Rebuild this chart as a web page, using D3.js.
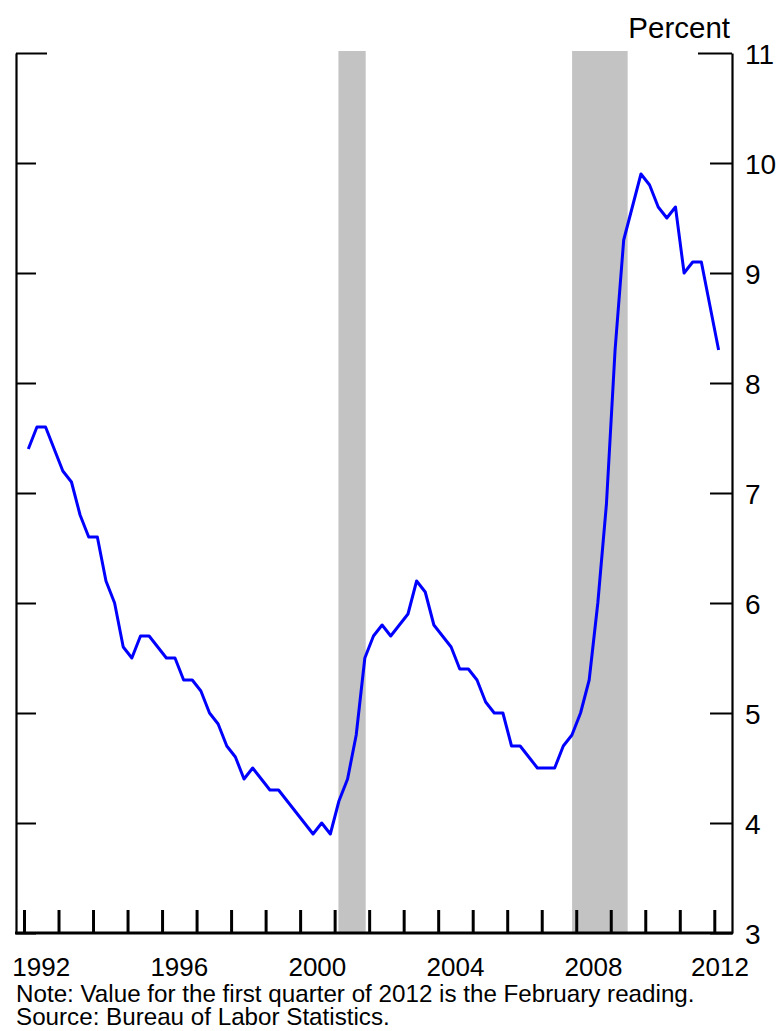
<!DOCTYPE html>
<html>
<head>
<meta charset="utf-8">
<script src="https://cdn.jsdelivr.net/npm/d3@7"></script>
<style>
  html, body { margin: 0; padding: 0; background: #fff; }
  svg { display: block; }
  text { font-family: "Liberation Sans", Arial, sans-serif; fill: #000; }
</style>
</head>
<body>
<svg id="chart" width="780" height="1031"></svg>
<script>
// ---- Data ----
const quarters = [
  "1992Q1","1992Q2","1992Q3","1992Q4",
  "1993Q1","1993Q2","1993Q3","1993Q4",
  "1994Q1","1994Q2","1994Q3","1994Q4",
  "1995Q1","1995Q2","1995Q3","1995Q4",
  "1996Q1","1996Q2","1996Q3","1996Q4",
  "1997Q1","1997Q2","1997Q3","1997Q4",
  "1998Q1","1998Q2","1998Q3","1998Q4",
  "1999Q1","1999Q2","1999Q3","1999Q4",
  "2000Q1","2000Q2","2000Q3","2000Q4",
  "2001Q1","2001Q2","2001Q3","2001Q4",
  "2002Q1","2002Q2","2002Q3","2002Q4",
  "2003Q1","2003Q2","2003Q3","2003Q4",
  "2004Q1","2004Q2","2004Q3","2004Q4",
  "2005Q1","2005Q2","2005Q3","2005Q4",
  "2006Q1","2006Q2","2006Q3","2006Q4",
  "2007Q1","2007Q2","2007Q3","2007Q4",
  "2008Q1","2008Q2","2008Q3","2008Q4",
  "2009Q1","2009Q2","2009Q3","2009Q4",
  "2010Q1","2010Q2","2010Q3","2010Q4",
  "2011Q1","2011Q2","2011Q3","2011Q4",
  "2012Q1"
];
const unemploymentRate = [
  7.4, 7.6, 7.6, 7.4,
  7.2, 7.1, 6.8, 6.6,
  6.6, 6.2, 6.0, 5.6,
  5.5, 5.7, 5.7, 5.6,
  5.5, 5.5, 5.3, 5.3,
  5.2, 5.0, 4.9, 4.7,
  4.6, 4.4, 4.5, 4.4,
  4.3, 4.3, 4.2, 4.1,
  4.0, 3.9, 4.0, 3.9,
  4.2, 4.4, 4.8, 5.5,
  5.7, 5.8, 5.7, 5.8,
  5.9, 6.2, 6.1, 5.8,
  5.7, 5.6, 5.4, 5.4,
  5.3, 5.1, 5.0, 5.0,
  4.7, 4.7, 4.6, 4.5,
  4.5, 4.5, 4.7, 4.8,
  5.0, 5.3, 6.0, 6.9,
  8.3, 9.3, 9.6, 9.9,
  9.8, 9.6, 9.5, 9.6,
  9.0, 9.1, 9.1, 8.7,
  8.3
];
// Recession shading, in fractional years
const recessionStart = [2001.11, 2007.88];
const recessionEnd   = [2001.90, 2009.49];
// Ticks and labels
const yearTicks = [1992,1993,1994,1995,1996,1997,1998,1999,2000,2001,2002,2003,2004,2005,2006,2007,2008,2009,2010,2011,2012];
const yearLabels = [1992, 1996, 2000, 2004, 2008, 2012];
const yTicks = [3,4,5,6,7,8,9,10,11];
const unitLabel = "Percent";
const noteLines = [
  "Note: Value for the first quarter of 2012 is the February reading.",
  "Source: Bureau of Labor Statistics."
];

// ---- Layout ----
const frameLeft = 16, frameRight = 732, frameTop = 53, frameBottom = 933;
const svg = d3.select("#chart");

const x = d3.scaleLinear().domain([1992, 2012]).range([24, 714.3]);
const y = d3.scaleLinear().domain([3, 11]).range([frameBottom, frameTop]);

function quarterToYear(q) {
  const yr = +q.slice(0, 4), qn = +q.slice(5);
  return yr + (qn - 0.5) / 4;
}
const series = quarters.map((q, i) => ({ t: quarterToYear(q), v: unemploymentRate[i] }));

// Recession bars
svg.append("g").selectAll("rect")
  .data(recessionStart.map((s, i) => ({ s, e: recessionEnd[i] })))
  .join("rect")
  .attr("x", d => x(d.s))
  .attr("width", d => x(d.e) - x(d.s))
  .attr("y", frameTop - 2)
  .attr("height", frameBottom - frameTop + 2)
  .attr("fill", "#c3c3c3");

// Left axis (ticks inward, no labels)
const leftAxis = svg.append("g")
  .attr("transform", `translate(${frameLeft},0)`)
  .call(d3.axisLeft(y).tickValues(yTicks).tickSize(-20).tickSizeOuter(0).tickFormat(""));
leftAxis.select(".domain").attr("stroke", "#000").attr("stroke-width", 2.2);
leftAxis.selectAll(".tick line").attr("stroke", "#000").attr("stroke-width", 2)
  .attr("x2", d => d === 11 ? 31 : 20);

// Right axis (ticks inward, labels outside)
const rightAxis = svg.append("g")
  .attr("transform", `translate(${frameRight},0)`)
  .call(d3.axisRight(y).tickValues(yTicks).tickSize(-22).tickSizeOuter(0).tickPadding(14).tickFormat(d3.format("d")));
rightAxis.select(".domain").attr("stroke", "#000").attr("stroke-width", 2.2);
rightAxis.selectAll(".tick line").attr("stroke", "#000").attr("stroke-width", 2)
  .attr("x2", d => d === 11 ? -34 : -22);
rightAxis.selectAll(".tick text")
  .attr("font-family", "'Liberation Sans', Arial, sans-serif")
  .attr("font-size", 28)
  .attr("fill", "#000")
  .attr("dy", "0.36em")
  .attr("dx", -1);

// Bottom axis (year ticks inward)
const bottomAxis = svg.append("g")
  .attr("transform", `translate(0,${frameBottom})`)
  .call(d3.axisBottom(x).tickValues(yearTicks).tickSize(-23).tickSizeOuter(0).tickFormat(""));
bottomAxis.select(".domain").remove();
bottomAxis.selectAll(".tick line").attr("stroke", "#000").attr("stroke-width", 3);
svg.append("line")
  .attr("x1", frameLeft - 1).attr("x2", frameRight + 1)
  .attr("y1", frameBottom).attr("y2", frameBottom)
  .attr("stroke", "#000").attr("stroke-width", 3);

// Year labels centered on mid-year, kept inside the picture
svg.append("g").selectAll("text")
  .data(yearLabels)
  .join("text")
  .attr("x", d => Math.min(x(d + 0.5), 720))
  .attr("y", 975.5)
  .attr("text-anchor", "middle")
  .attr("font-size", 26)
  .text(d => d);

// Line
const line = d3.line().x(d => x(d.t)).y(d => y(d.v));
svg.append("path")
  .datum(series)
  .attr("d", line)
  .attr("fill", "none")
  .attr("stroke", "#0000ff")
  .attr("stroke-width", 3)
  .attr("stroke-linejoin", "round");

// Unit label
svg.append("text")
  .attr("x", 730).attr("y", 38)
  .attr("text-anchor", "end")
  .attr("font-size", 29.5)
  .text(unitLabel);

// Notes
svg.append("g").selectAll("text")
  .data(noteLines)
  .join("text")
  .attr("x", 16)
  .attr("y", (d, i) => 1001.5 + i * 23.5)
  .attr("font-size", 24.2)
  .text(d => d);
</script>
</body>
</html>
